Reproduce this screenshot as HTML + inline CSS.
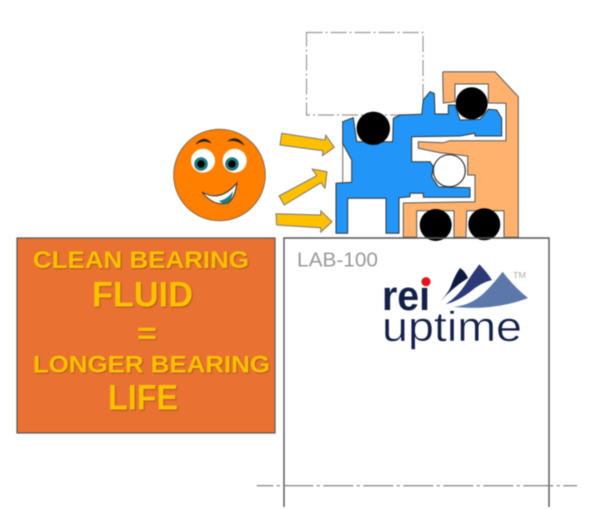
<!DOCTYPE html>
<html><head><meta charset="utf-8"><style>
html,body{margin:0;padding:0;background:#fff;width:600px;height:509px;overflow:hidden}
svg{display:block;filter:blur(.55px)}
text{font-family:"Liberation Sans",sans-serif}
.y{font-weight:bold;fill:#FFC000;filter:drop-shadow(1px 1px .6px #a85a1c)}
</style></head><body>
<svg width="600" height="509" viewBox="0 0 600 509" xmlns="http://www.w3.org/2000/svg">
<rect x="306.5" y="32.5" width="116.5" height="82.5" fill="none" stroke="#999" stroke-width="1.2" stroke-dasharray="16 3 2 3"/>
<line x1="342.7" y1="143" x2="342.7" y2="184" stroke="#888" stroke-width="1.3"/>
<path d="M442.7 73Q442.7 71.7 444 71.7L495 71.7L518.3 96.7L518.3 237.3L504 237.3L504 210.7L466.7 210.7L466 237.3L454 237.3L454 210.7L416.7 210.7L416.7 237.3L403.3 237.3L403.3 203L475 201.7L475 175L467.7 175L467.7 156L440 152.7L418.3 148.3L418.3 141.7L443.3 142.7L450 140.7L506 140.7L506 103.3L488.3 103L488.3 84L455 84L455 101.7L443.3 103Z" fill="#FFB26E" stroke="#555" stroke-width="1" stroke-linejoin="round"/>
<path d="M342.7 121.7L353.3 117.7L356.7 141.7L392.7 141.7L393.3 118.3L400 115L421.7 114.3L423.3 100L430 91.7L434.3 93.3L435 114L448.3 114L448.3 105L455 105L460 120L480 119.3L488.3 109.3L496.7 110L501.7 118.3L501.7 136L475 136L475 133.3L460 136L411.7 136.7L411.7 161.7L430 161.7L433.3 166.7L431.7 176.7L438.3 186.7L470 187.7L470 197.3L423.3 197.3L423.3 193.3L410 193.3L410 196.7L399 197.7L399 233.3L386 233.3L386 198.3L347.7 198.3L347.7 233.3L336 233.3L336 183.3L351.7 182.3L351.7 160L342.7 143.3Z" fill="#2196F8" stroke="#333" stroke-width="1" stroke-linejoin="round"/>
<circle cx="373.3" cy="128.3" r="16.7" fill="#000"/>
<circle cx="471.7" cy="103.3" r="16" fill="#000"/>
<circle cx="435.7" cy="225" r="16" fill="#000"/>
<circle cx="484.3" cy="224.3" r="16" fill="#000"/>
<circle cx="449.3" cy="170.7" r="16" fill="#fff" stroke="#333" stroke-width="1.2"/>
<g fill="#FFC000" stroke="#777" stroke-width="1" stroke-linejoin="round">
<path d="M281.7 133.3L325 140L325.7 135L334.3 147.3L322.3 155.7L323 150.7L280 145Z"/>
<path d="M279 196L316.7 175.7L312 169L327 171.7L325 188.3L321 182.7L284.3 205Z"/>
<path d="M276 213.7L320.7 215L320.7 210.7L332 221.7L320.7 232.3L320.7 227.7L276.7 225Z"/>
</g>
<circle cx="219.5" cy="175" r="45.8" fill="#FF7F00" stroke="#8a6a4a" stroke-width="1"/>
<circle cx="203" cy="160.7" r="12" fill="#fff"/>
<circle cx="234.7" cy="160.7" r="12" fill="#fff"/>
<circle cx="201" cy="164" r="6.8" fill="#1e7b80"/>
<circle cx="232" cy="164" r="6.8" fill="#1e7b80"/>
<circle cx="201" cy="164" r="3.8" fill="#000"/>
<circle cx="232" cy="164" r="3.8" fill="#000"/>
<path d="M196 144Q204 135 211 143Q204 139 196 144Z" fill="#222" stroke="#222" stroke-width=".7"/>
<path d="M228 141Q237 135 244 145Q236 139 228 141Z" fill="#222" stroke="#222" stroke-width=".7"/>
<path d="M202 192Q220 203 237 183Q235 198 228 203Q214 207 202 192Z" fill="#fff" stroke="#333" stroke-width="1"/>
<path d="M219 201Q228 199 233 191Q232 200 228 203Q223 205 219 201Z" fill="#1e7b80"/>
<rect x="17" y="238" width="258" height="195" fill="#E97132" stroke="#555" stroke-width="1.2"/>
<text class="y" x="33" y="268" font-size="24.5" textLength="216" lengthAdjust="spacingAndGlyphs">CLEAN BEARING</text>
<text class="y" x="92" y="306.5" font-size="35" textLength="101" lengthAdjust="spacingAndGlyphs">FLUID</text>
<text class="y" x="137" y="343" font-size="30" textLength="20" lengthAdjust="spacingAndGlyphs">=</text>
<text class="y" x="33" y="372.5" font-size="24.5" textLength="237" lengthAdjust="spacingAndGlyphs">LONGER BEARING</text>
<text class="y" x="108" y="409.5" font-size="35" textLength="70" lengthAdjust="spacingAndGlyphs">LIFE</text>
<path d="M284 507V238H549V507" fill="none" stroke="#555" stroke-width="1.4"/>
<line x1="256.7" y1="485.7" x2="577" y2="485.7" stroke="#777" stroke-width="1.2" stroke-dasharray="30 3.5 3 3.5" stroke-dashoffset="13.4"/>
<text x="297" y="266.5" font-size="20" fill="#999" textLength="81" lengthAdjust="spacingAndGlyphs">LAB-100</text>
<text x="382" y="310" font-size="42" font-weight="bold" fill="#12204a" textLength="48" lengthAdjust="spacingAndGlyphs">rei</text>
<circle cx="426" cy="281.7" r="4.6" fill="#e8141c"/>
<text x="382" y="341" font-size="42" fill="#12204a" stroke="#fff" stroke-width=".5" textLength="140" lengthAdjust="spacingAndGlyphs">uptime</text>
<path d="M439.3 302.7Q449 292 451 286Q455 275 460 268Q465 271 468 278Q452 288 439.3 302.7Z" fill="#0d1a40"/>
<path d="M445.7 304.3Q458 296 465 285Q472 274 479.3 264.3Q486 271 492 280Q480 283 470 292Q458 301 445.7 304.3Z" fill="#2d3a78"/>
<path d="M453 306.7Q470 306 484 293Q494 283 502.7 271.7Q514 287 528 298Q510 305 490 307Q470 309 453 306.7Z" fill="#5c78ab"/>
<text x="513" y="278" font-size="8" fill="#aaa" textLength="13" lengthAdjust="spacingAndGlyphs">TM</text>
</svg>
</body></html>
